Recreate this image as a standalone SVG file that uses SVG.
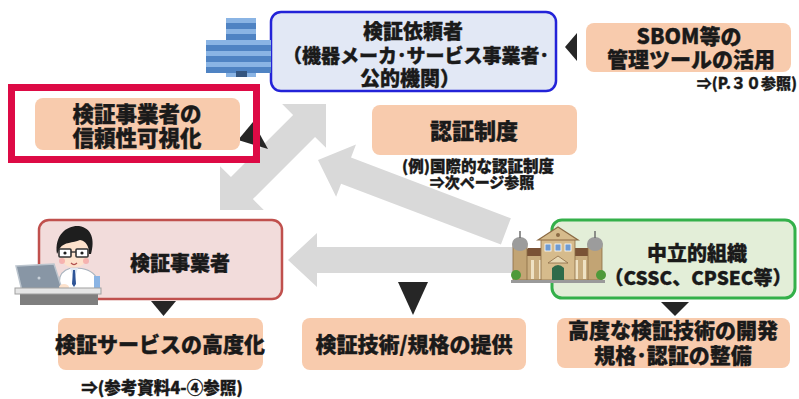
<svg xmlns="http://www.w3.org/2000/svg" width="799" height="399" viewBox="0 0 799 399">
  <defs>
    <style>
      text { font-family: "Noto Sans CJK JP", "Noto Sans", sans-serif; font-weight: 900; fill: #1a1a1a; stroke: #1a1a1a; stroke-width: 0.35px; text-anchor: middle; }
      .peach { fill: #f8cbad; }
      .gray { fill: #d9d9d9; }
      .head { fill: #262626; }
      .t21 { font-size: 21px; }
      .t20 { font-size: 20px; }
      .t19 { font-size: 19px; }
      .t15 { font-size: 15px; }
    </style>
    <pattern id="bldStripes" patternUnits="userSpaceOnUse" x="0" y="18" width="10" height="11">
      <rect width="10" height="11" fill="#8ab4e4"/>
      <rect y="5" width="10" height="6" fill="#4f83c3"/>
    </pattern>
  </defs>

  <rect width="799" height="399" fill="#ffffff"/>

  <!-- connectors: wide grey arrows and black arrowheads -->
  <g id="connectors">
    <!-- double arrow between requester and verifier -->
    <polygon class="gray" transform="translate(220,210) rotate(-45)"
      points="0,0 31,-31 31,-15.5 118.9,-15.5 118.9,-31 149.9,0 118.9,31 118.9,15.5 31,15.5 31,31"/>
    <!-- neutral organisation to requester -->
    <polygon class="gray" transform="translate(318,160) rotate(20.8)"
      points="0,0 30,-28 30,-14 201,-14 201,14 30,14 30,28"/>
    <!-- neutral organisation to verifier -->
    <polygon class="gray" points="288,260 317,233 317,247 513,247 513,273 317,273 317,287"/>

    <polygon class="head" points="565,47 577,33 577,61"/>
    <polygon class="head" points="238,140 253,122 268,149"/>
    <polygon class="head" points="151,301 176,301 163.5,316"/>
    <polygon class="head" points="398,282 428,282 413,315"/>
    <polygon class="head" points="661,302 689,302 675,316"/>
  </g>

  <!-- requester -->
  <g id="requester">
    <rect x="271" y="12" width="285" height="79" rx="10" fill="#e2e8f5" stroke="#2323d8" stroke-width="2.5"/>
    <g id="requester-icon">
      <rect x="206" y="40" width="22" height="33" fill="url(#bldStripes)"/>
      <rect x="254" y="40" width="17" height="33" fill="url(#bldStripes)"/>
      <rect x="226" y="18" width="30" height="59" fill="url(#bldStripes)"/>
      <rect x="236" y="71" width="11" height="6" fill="#34557f"/>
    </g>
    <text class="t20" x="413" y="39">検証依頼者</text>
    <text class="t19" x="416" y="63">（機器メーカ･サービス事業者･</text>
    <text class="t20" x="410" y="86">公的機関）</text>
  </g>

  <!-- SBOM tools -->
  <g id="sbom">
    <rect class="peach" x="586" y="23" width="205" height="49" rx="8"/>
    <text x="689" y="44" style="font-size:21px">SBOM等の</text>
    <text x="691" y="67" style="font-size:21px">管理ツールの活用</text>
    <text class="t15" x="797" y="89" style="text-anchor:end">⇒(P.３０参照)</text>
  </g>

  <!-- verifier visibility -->
  <g id="visibility">
    <rect class="peach" x="35" y="98" width="205" height="52" rx="8"/>
    <text x="137" y="122" style="font-size:21.5px">検証事業者の</text>
    <text x="137" y="146" style="font-size:21.5px">信頼性可視化</text>
    <rect x="11.5" y="87.5" width="245" height="72" fill="none" stroke="#dd0a45" stroke-width="7"/>
  </g>

  <!-- certification scheme -->
  <g id="certification">
    <rect class="peach" x="372" y="105" width="205" height="50" rx="8"/>
    <text x="474" y="139" style="font-size:22px">認証制度</text>
    <text x="478" y="172" style="font-size:15.5px">(例)国際的な認証制度</text>
    <text class="t15" x="482" y="188">⇒次ページ参照</text>
  </g>

  <!-- verifier -->
  <g id="verifier">
    <rect x="39" y="220" width="243" height="79" rx="10" fill="#f2dcdb" stroke="#c0504d" stroke-width="2.5"/>
    <text class="t20" x="180" y="271">検証事業者</text>
    <g id="verifier-icon">
      <!-- desk -->
      <rect x="20" y="293" width="78" height="12" fill="#7f7f7f"/>
      <!-- coat -->
      <path d="M58,292 L60,277 C62,271 68,268 74,268 C82,268 92,270 96,277 L99,292 Z" fill="#ffffff" stroke="#a9b4bf" stroke-width="1.2"/>
      <path d="M70,268 L74,280 L78,268 Z" fill="#dfe8f2"/>
      <path d="M73,270 L75,270 L76,284 L74,287 L72,284 Z" fill="#2f5597"/>
      <rect x="94" y="276" width="6" height="14" fill="#8ab4e4"/>
      <!-- face -->
      <ellipse cx="74" cy="252" rx="15" ry="15.5" fill="#fde2cc"/>
      <path d="M57,254 C54,234 68,225 79,226 C92,228 95,240 91,254 L89,254 C89,246 86,241 80,240 C73,243 64,242 60,248 Z" fill="#1e1e1e"/>
      <rect x="59" y="249" width="12" height="8" rx="1" fill="#ffffff" stroke="#333333" stroke-width="1.6"/>
      <rect x="76" y="249" width="12" height="8" rx="1" fill="#ffffff" stroke="#333333" stroke-width="1.6"/>
      <line x1="71" y1="252" x2="76" y2="252" stroke="#333333" stroke-width="1.4"/>
      <circle cx="65" cy="253" r="1.6" fill="#1e1e1e"/>
      <circle cx="82" cy="253" r="1.6" fill="#1e1e1e"/>
      <circle cx="62" cy="261" r="3" fill="#f5a0a0" opacity="0.7"/>
      <circle cx="86" cy="261" r="3" fill="#f5a0a0" opacity="0.7"/>
      <path d="M71,263 Q74,266 77,263" fill="none" stroke="#b05050" stroke-width="1.2"/>
      <!-- laptop -->
      <polygon points="16,266 54,264 62,289 22,291" fill="#8896a5" stroke="#bcc5ce" stroke-width="1.5"/>
      <circle cx="39" cy="278" r="1.5" fill="#c9d1d9"/>
      <ellipse cx="64" cy="287" rx="5" ry="3" fill="#fde2cc"/>
      <rect x="15" y="288" width="86" height="6" fill="#e6e6e6" stroke="#a0a0a0" stroke-width="1"/>
    </g>
  </g>

  <!-- neutral organisation -->
  <g id="neutral-org">
    <rect x="552" y="220" width="243" height="78" rx="10" fill="#e3eed8" stroke="#34b04a" stroke-width="3"/>
    <g id="neutral-icon">
      <!-- wings -->
      <rect x="520" y="255" width="78" height="25" fill="#c9ad7f" stroke="#8b6b45" stroke-width="0.8"/>
      <polygon points="522,256 528,248 546,248 546,256" fill="#7a5236"/>
      <polygon points="570,256 570,248 588,248 594,256" fill="#7a5236"/>
      <rect x="531" y="260" width="3" height="19" fill="#efe2c4"/>
      <rect x="539" y="260" width="3" height="19" fill="#efe2c4"/>
      <rect x="575" y="260" width="3" height="19" fill="#efe2c4"/>
      <rect x="583" y="260" width="3" height="19" fill="#efe2c4"/>
      <!-- towers -->
      <rect x="513" y="244" width="14" height="36" fill="#c2a474" stroke="#8b6b45" stroke-width="0.8"/>
      <ellipse cx="520" cy="244" rx="8" ry="7" fill="#9c9c9c"/>
      <line x1="520" y1="231" x2="520" y2="238" stroke="#6e6e6e" stroke-width="1.5"/>
      <rect x="588" y="244" width="14" height="36" fill="#c2a474" stroke="#8b6b45" stroke-width="0.8"/>
      <ellipse cx="595" cy="244" rx="8" ry="7" fill="#9c9c9c"/>
      <line x1="595" y1="231" x2="595" y2="238" stroke="#6e6e6e" stroke-width="1.5"/>
      <!-- centre block -->
      <rect x="541" y="239" width="34" height="41" fill="#d6bb8c" stroke="#8b6b45" stroke-width="0.8"/>
      <polygon points="538,240 558,227 578,240" fill="#d6bb8c" stroke="#8b6b45" stroke-width="1.2"/>
      <circle cx="558" cy="235" r="2" fill="#8b6b45"/>
      <rect x="545" y="244" width="6" height="7" fill="#6f9bd1" stroke="#ffffff" stroke-width="0.8"/>
      <rect x="555" y="244" width="6" height="7" fill="#6f9bd1" stroke="#ffffff" stroke-width="0.8"/>
      <rect x="565" y="244" width="6" height="7" fill="#6f9bd1" stroke="#ffffff" stroke-width="0.8"/>
      <polygon points="548,263 558,256 568,263" fill="#e8d8b4" stroke="#8b6b45" stroke-width="0.8"/>
      <path d="M552,280 L552,268 Q558,262 564,268 L564,280 Z" fill="#2f6b4a"/>
      <!-- bushes and ground -->
      <circle cx="516" cy="275" r="5" fill="#4f9a3a"/>
      <circle cx="601" cy="275" r="5" fill="#4f9a3a"/>
      <rect x="511" y="280" width="94" height="3" fill="#9a9a9a"/>
    </g>
    <text class="t20" x="697" y="261">中立的組織</text>
    <text class="t19" x="698" y="285">（CSSC、CPSEC等）</text>
  </g>

  <!-- outcomes -->
  <g id="service-advance">
    <rect class="peach" x="58" y="318" width="205" height="52" rx="8"/>
    <text class="t21" x="160" y="352">検証サービスの高度化</text>
    <text x="162" y="394" style="font-size:16.5px">⇒(参考資料4-④参照)</text>
  </g>

  <g id="tech-provision">
    <rect class="peach" x="302" y="318" width="224" height="52" rx="8"/>
    <text class="t21" x="414" y="352">検証技術/規格の提供</text>
  </g>

  <g id="tech-development">
    <rect class="peach" x="557" y="318" width="233" height="50" rx="8"/>
    <text class="t21" x="673" y="338">高度な検証技術の開発</text>
    <text class="t21" x="673" y="363">規格･認証の整備</text>
  </g>
</svg>
